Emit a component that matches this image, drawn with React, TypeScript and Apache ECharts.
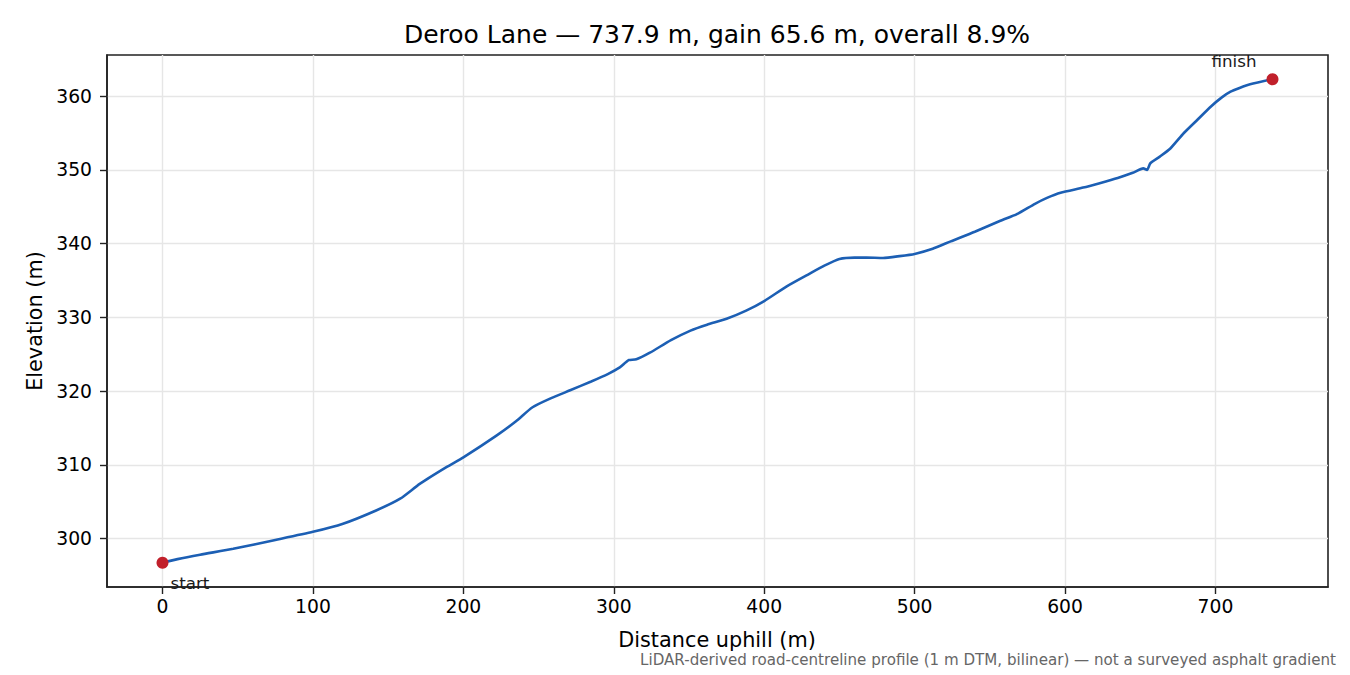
import React, { useEffect, useRef } from "react";
import * as echarts from "echarts";

const distance = [
  0, 10, 25, 47, 75, 100, 120, 142, 158, 171, 189, 200, 222, 235, 246, 258, 271, 285, 296, 304,
  308, 310, 315, 324, 338, 351, 362, 375, 388, 400, 415, 430, 440, 450, 460, 468, 479, 490, 500,
  512, 524, 540, 557, 568, 580, 588, 597, 612, 623, 635, 645, 652, 654.5, 656.7, 663, 670, 679,
  688, 697, 704, 710, 716, 723, 737.9,
];
const elevation = [
  296.7, 297.2, 297.8, 298.6, 299.8, 300.9, 302.0, 303.8, 305.4, 307.4, 309.7, 311.0, 313.95, 315.9,
  317.8, 319.0, 320.1, 321.3, 322.3, 323.2, 323.9, 324.2, 324.3, 325.2, 326.9, 328.2, 329.0, 329.8,
  330.9, 332.2, 334.2, 335.9, 337.0, 337.9, 338.1, 338.1, 338.05, 338.3, 338.6, 339.3, 340.3, 341.6,
  343.1, 344.0, 345.4, 346.2, 346.9, 347.6, 348.2, 348.9, 349.6, 350.2, 350.0, 350.9, 351.8, 352.9,
  355.0, 356.8, 358.6, 359.8, 360.6, 361.1, 361.6, 362.3,
];
const xTicks = [0, 100, 200, 300, 400, 500, 600, 700];
const yTicks = [300, 310, 320, 330, 340, 350, 360];
const endLabels = ["start", "finish"];

const titleText = "Deroo Lane \u2014 737.9 m, gain 65.6 m, overall 8.9%";
const xName = "Distance uphill (m)";
const yName = "Elevation (m)";
const footnote =
  "LiDAR-derived road-centreline profile (1 m DTM, bilinear) \u2014 not a surveyed asphalt gradient";

const FONT = "DejaVu Sans";

export default function App() {
  const ref = useRef<HTMLDivElement>(null);
  useEffect(() => {
    document.body.style.margin = "0";
    if (!ref.current) return;
    const chart = echarts.init(ref.current, undefined, { renderer: "svg" });
    const n = distance.length;
    const xMin = -0.05 * distance[n - 1];
    const xMax = distance[n - 1] * 1.05;
    const eMin = Math.min(...elevation);
    const eMax = Math.max(...elevation);
    const pad = 0.05 * (eMax - eMin);
    const line = distance.map((d, i) => [d, elevation[i]]);
    const labelBase = {
      show: true,
      formatter: (p: any) => p.name,
      fontFamily: FONT,
      fontSize: 16.7,
      color: "#1a1a1a",
      opacity: 1,
    };
    const ends = [
      {
        value: [distance[0], elevation[0]],
        name: endLabels[0],
        label: { ...labelBase, position: [14, 26], align: "left", verticalAlign: "middle" },
      },
      {
        value: [distance[n - 1], elevation[n - 1]],
        name: endLabels[1],
        label: { ...labelBase, position: [-10, -12], align: "right", verticalAlign: "middle" },
      },
    ];
    chart.setOption({
      animation: false,
      backgroundColor: "#ffffff",
      grid: {
        left: 107,
        right: 22,
        top: 55,
        bottom: 88,
        show: true,
        borderColor: "#222222",
        borderWidth: 1.6,
        backgroundColor: "transparent",
      },
      xAxis: {
        type: "value",
        min: xMin,
        max: xMax,
        axisLine: { show: true, onZero: false, lineStyle: { color: "#222222", width: 1.6 } },
        axisTick: {
          show: true,
          customValues: xTicks,
          length: 7,
          lineStyle: { color: "#222222", width: 1.4 },
        },
        axisLabel: {
          customValues: xTicks,
          margin: 10,
          fontFamily: FONT,
          fontSize: 18.75,
          color: "#000000",
        },
        splitLine: { show: true, lineStyle: { color: "#e6e6e6", width: 1.4 } },
      },
      yAxis: {
        type: "value",
        min: eMin - pad,
        max: eMax + pad,
        axisLine: { show: true, onZero: false, lineStyle: { color: "#222222", width: 1.6 } },
        axisTick: {
          show: true,
          customValues: yTicks,
          length: 7,
          lineStyle: { color: "#222222", width: 1.4 },
        },
        axisLabel: {
          customValues: yTicks,
          margin: 15,
          fontFamily: FONT,
          fontSize: 18.75,
          color: "#000000",
        },
        splitLine: { show: true, lineStyle: { color: "#e6e6e6", width: 1.4 } },
      },
      series: [
        {
          type: "line",
          data: line,
          showSymbol: false,
          symbol: "none",
          smooth: 0.2,
          lineStyle: { color: "#1c5fb4", width: 2.6 },
          z: 2,
        },
        {
          type: "scatter",
          data: ends,
          symbolSize: 12,
          itemStyle: { color: "#c1202b", opacity: 1 },
          z: 3,
          label: labelBase,
          emphasis: { disabled: true },
        },
      ],
      graphic: [
        {
          type: "text",
          x: 717,
          y: 34,
          style: {
            text: titleText,
            font: `25px "${FONT}"`,
            fill: "#000000",
            align: "center",
            verticalAlign: "middle",
          },
        },
        {
          type: "text",
          x: 717,
          y: 640,
          style: {
            text: xName,
            font: `20.8px "${FONT}"`,
            fill: "#000000",
            align: "center",
            verticalAlign: "middle",
          },
        },
        {
          type: "text",
          x: 35,
          y: 321,
          rotation: Math.PI / 2,
          style: {
            text: yName,
            font: `20.8px "${FONT}"`,
            fill: "#000000",
            align: "center",
            verticalAlign: "middle",
          },
        },
        {
          type: "text",
          x: 1336,
          y: 660,
          style: {
            text: footnote,
            font: `15.1px "${FONT}"`,
            fill: "#666666",
            align: "right",
            verticalAlign: "middle",
          },
        },
      ],
    });
    return () => chart.dispose();
  }, []);
  return <div ref={ref} style={{ width: 1350, height: 675 }} />;
}
